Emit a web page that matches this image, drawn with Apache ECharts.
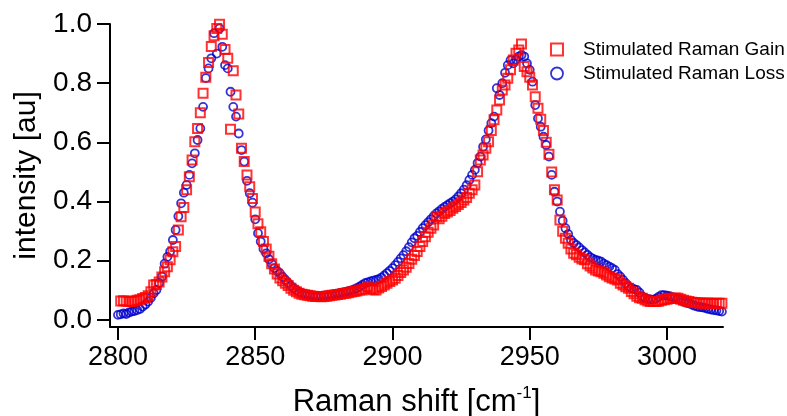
<!DOCTYPE html>
<html>
<head>
<meta charset="utf-8">
<title>Stimulated Raman Gain / Loss</title>
<script src="https://cdn.jsdelivr.net/npm/echarts@6/dist/echarts.min.js"></script>
<style>
  html, body { margin: 0; padding: 0; background: #fff; }
  #chart { width: 787px; height: 416px; }
</style>
</head>
<body>
<div id="chart"></div>
<script>
// Raman shift [cm-1], one point per wavenumber
const shift = [
  2800, 2801, 2802, 2803, 2804, 2805, 2806, 2807, 2808, 2809,
  2810, 2811, 2812, 2813, 2814, 2815, 2816, 2817, 2818, 2819,
  2820, 2821, 2822, 2823, 2824, 2825, 2826, 2827, 2828, 2829,
  2830, 2831, 2832, 2833, 2834, 2835, 2836, 2837, 2838, 2839,
  2840, 2841, 2842, 2843, 2844, 2845, 2846, 2847, 2848, 2849,
  2850, 2851, 2852, 2853, 2854, 2855, 2856, 2857, 2858, 2859,
  2860, 2861, 2862, 2863, 2864, 2865, 2866, 2867, 2868, 2869,
  2870, 2871, 2872, 2873, 2874, 2875, 2876, 2877, 2878, 2879,
  2880, 2881, 2882, 2883, 2884, 2885, 2886, 2887, 2888, 2889,
  2890, 2891, 2892, 2893, 2894, 2895, 2896, 2897, 2898, 2899,
  2900, 2901, 2902, 2903, 2904, 2905, 2906, 2907, 2908, 2909,
  2910, 2911, 2912, 2913, 2914, 2915, 2916, 2917, 2918, 2919,
  2920, 2921, 2922, 2923, 2924, 2925, 2926, 2927, 2928, 2929,
  2930, 2931, 2932, 2933, 2934, 2935, 2936, 2937, 2938, 2939,
  2940, 2941, 2942, 2943, 2944, 2945, 2946, 2947, 2948, 2949,
  2950, 2951, 2952, 2953, 2954, 2955, 2956, 2957, 2958, 2959,
  2960, 2961, 2962, 2963, 2964, 2965, 2966, 2967, 2968, 2969,
  2970, 2971, 2972, 2973, 2974, 2975, 2976, 2977, 2978, 2979,
  2980, 2981, 2982, 2983, 2984, 2985, 2986, 2987, 2988, 2989,
  2990, 2991, 2992, 2993, 2994, 2995, 2996, 2997, 2998, 2999,
  3000, 3001, 3002, 3003, 3004, 3005, 3006, 3007, 3008, 3009,
  3010, 3011, 3012, 3013, 3014, 3015, 3016, 3017, 3018, 3019,
  3020
]

// Stimulated Raman Gain (red squares), no point at 2800
const gain = [
  null, 0.064, 0.065, 0.063, 0.062, 0.062, 0.064, 0.066, 0.068, 0.072,
  0.076, 0.082, 0.095, 0.118, 0.120, 0.128, 0.145, 0.163, 0.180, 0.203,
  0.230, 0.248, 0.304, 0.349, 0.380, 0.440, 0.484, 0.540, 0.602, 0.647,
  0.700, 0.766, 0.820, 0.870, 0.924, 0.960, 0.985, 0.999, 0.965, 0.914,
  0.884, 0.644, 0.842, 0.760, 0.696, 0.580, 0.535, 0.490, 0.450, 0.410,
  0.365, 0.325, 0.298, 0.265, 0.240, 0.215, 0.190, 0.172, 0.155, 0.142,
  0.132, 0.124, 0.116, 0.107, 0.100, 0.095, 0.090, 0.087, 0.085, 0.083,
  0.082, 0.080, 0.079, 0.079, 0.078, 0.079, 0.080, 0.082, 0.083, 0.084,
  0.086, 0.087, 0.089, 0.090, 0.092, 0.094, 0.096, 0.098, 0.101, 0.101,
  0.105, 0.113, 0.106, 0.102, 0.101, 0.108, 0.113, 0.118, 0.124, 0.130,
  0.135, 0.141, 0.150, 0.160, 0.169, 0.178, 0.191, 0.205, 0.218, 0.231,
  0.248, 0.265, 0.281, 0.296, 0.310, 0.321, 0.349, 0.342, 0.350, 0.360,
  0.365, 0.370, 0.377, 0.383, 0.390, 0.397, 0.405, 0.414, 0.428, 0.440,
  0.456, 0.501, 0.540, 0.557, 0.580, 0.602, 0.640, 0.676, 0.709, 0.743,
  0.777, 0.794, 0.817, 0.845, 0.878, 0.901, 0.912, 0.932, 0.856, 0.839,
  0.820, 0.794, 0.754, 0.715, 0.678, 0.640, 0.600, 0.560, 0.500, 0.440,
  0.405, 0.338, 0.300, 0.276, 0.259, 0.240, 0.225, 0.220, 0.212, 0.206,
  0.203, 0.190, 0.182, 0.175, 0.169, 0.165, 0.163, 0.158, 0.152, 0.146,
  0.142, 0.138, 0.135, 0.124, 0.118, 0.112, 0.107, 0.096, 0.088, 0.080,
  0.075, 0.073, 0.068, 0.064, 0.062, 0.062, 0.062, 0.063, 0.066, 0.068,
  0.070, 0.073, 0.072, 0.074, 0.073, 0.070, 0.066, 0.064, 0.062, 0.060,
  0.059, 0.058, 0.057, 0.056, 0.056, 0.057, 0.056, 0.055, 0.056, 0.056,
  0.056
]

// Stimulated Raman Loss (blue circles)
const loss = [
  0.017, 0.019, 0.022, 0.020, 0.025, 0.028, 0.030, 0.033, 0.037, 0.045,
  0.052, 0.062, 0.075, 0.090, 0.101, 0.125, 0.146, 0.190, 0.213, 0.231,
  0.270, 0.304, 0.350, 0.394, 0.430, 0.456, 0.490, 0.529, 0.563, 0.608,
  0.647, 0.720, 0.817, 0.850, 0.884, 0.969, 0.900, 0.985, 0.923, 0.861,
  0.850, 0.771, 0.720, 0.687, 0.630, 0.574, 0.535, 0.470, 0.428, 0.396,
  0.340, 0.293, 0.265, 0.240, 0.225, 0.205, 0.190, 0.175, 0.165, 0.157,
  0.145, 0.135, 0.125, 0.115, 0.107, 0.100, 0.094, 0.090, 0.087, 0.085,
  0.083, 0.082, 0.081, 0.081, 0.081, 0.082, 0.083, 0.084, 0.085, 0.087,
  0.089, 0.091, 0.093, 0.095, 0.097, 0.100, 0.103, 0.107, 0.112, 0.118,
  0.124, 0.127, 0.130, 0.133, 0.135, 0.138, 0.143, 0.150, 0.158, 0.166,
  0.175, 0.185, 0.196, 0.208, 0.219, 0.232, 0.246, 0.262, 0.276, 0.284,
  0.297, 0.310, 0.320, 0.330, 0.340, 0.350, 0.360, 0.367, 0.375, 0.382,
  0.388, 0.394, 0.400, 0.407, 0.417, 0.428, 0.440, 0.455, 0.473, 0.490,
  0.507, 0.530, 0.552, 0.585, 0.610, 0.640, 0.665, 0.687, 0.783, 0.760,
  0.800, 0.835, 0.861, 0.878, 0.867, 0.880, 0.890, 0.895, 0.890, 0.867,
  0.845, 0.805, 0.726, 0.681, 0.653, 0.619, 0.591, 0.552, 0.490, 0.433,
  0.400, 0.366, 0.335, 0.310, 0.290, 0.270, 0.260, 0.253, 0.245, 0.236,
  0.228, 0.220, 0.212, 0.207, 0.203, 0.200, 0.197, 0.190, 0.185, 0.180,
  0.175, 0.169, 0.155, 0.146, 0.135, 0.124, 0.113, 0.108, 0.104, 0.101,
  0.092, 0.079, 0.074, 0.070, 0.069, 0.068, 0.072, 0.078, 0.084, 0.084,
  0.082, 0.080, 0.076, 0.075, 0.070, 0.066, 0.062, 0.058, 0.056, 0.052,
  0.048, 0.045, 0.043, 0.042, 0.040, 0.037, 0.035, 0.033, 0.032, 0.030,
  0.028
]

// tick labels
const xTicks = [2800, 2850, 2900, 2950, 3000]
const yTicks = [0.0, 0.2, 0.4, 0.6, 0.8, 1.0]

const gainName = "Stimulated Raman Gain"
const lossName = "Stimulated Raman Loss"

const FONT = "'Liberation Sans', Arial, sans-serif"
const RED = "#ff0000"
const BLUE = "#0000cc"

// pair x with y, skip missing points
const toPoints = (ys) => shift.map((x, i) => [x, ys[i]]).filter((p) => p[1] != null)

const chart = echarts.init(document.getElementById("chart"), null, { renderer: "canvas" })

const axisCommon = {
  axisLine: { show: true, onZero: false, lineStyle: { color: "#000", width: 2 } },
  splitLine: { show: false },
}

const option = {
  animation: false,
  backgroundColor: "#fff",
  textStyle: { fontFamily: FONT },
  // fixed plot box, don't let v6 shrink it to fit the axis names
  grid: { left: 110, right: 64, top: 24, bottom: 89, containLabel: false, outerBoundsMode: "none" },
  legend: {
    orient: "vertical",
    left: 545,
    top: 35,
    itemWidth: 12,
    itemHeight: 12,
    itemGap: 5,
    textStyle: { fontFamily: FONT, fontSize: 19, color: "#000", padding: [0, 0, 0, 15] },
    data: [
      { name: gainName, icon: "rect", itemStyle: { color: "rgba(0,0,0,0)", borderColor: RED, borderWidth: 2 } },
      { name: lossName, icon: "circle", itemStyle: { color: "rgba(0,0,0,0)", borderColor: BLUE, borderWidth: 1.8 } },
    ],
  },
  xAxis: {
    ...axisCommon,
    type: "value",
    min: 2797.1,
    max: 3020.4,
    axisTick: { show: true, inside: false, length: 13, customValues: xTicks, lineStyle: { color: "#000", width: 2 } },
    axisLabel: {
      customValues: xTicks,
      margin: 17,
      fontSize: 27,
      color: "#000",
      fontFamily: FONT,
      formatter: (v) => String(v),
    },
    name: "Raman shift [cm{sup|-1}]",
    nameLocation: "middle",
    nameGap: 58,
    nameTextStyle: {
      fontFamily: FONT,
      fontSize: 31,
      color: "#000",
      lineHeight: 34,
      rich: { sup: { fontFamily: FONT, fontSize: 17, color: "#000", verticalAlign: "top", lineHeight: 18 } },
    },
  },
  yAxis: {
    ...axisCommon,
    type: "value",
    min: -0.024,
    max: 1.0,
    axisTick: { show: true, inside: false, length: 13, customValues: yTicks, lineStyle: { color: "#000", width: 2 } },
    axisLabel: {
      customValues: yTicks,
      margin: 18,
      fontSize: 28,
      color: "#000",
      fontFamily: FONT,
      formatter: (v) => Number(v).toFixed(1),
    },
    name: "intensity [au]",
    nameLocation: "middle",
    nameGap: 68,
    nameTextStyle: { fontFamily: FONT, fontSize: 30, color: "#000" },
  },
  series: [
    {
      name: lossName,
      type: "scatter",
      data: toPoints(loss),
      symbol: "circle",
      symbolSize: 8,
      clip: false,
      z: 2,
      itemStyle: { color: "rgba(0,0,0,0)", borderColor: BLUE, borderWidth: 1.8 },
    },
    {
      name: gainName,
      type: "scatter",
      data: toPoints(gain),
      symbol: "rect",
      symbolSize: 9,
      clip: false,
      z: 3,
      itemStyle: { color: "rgba(0,0,0,0)", borderColor: RED, borderWidth: 2 },
    },
  ],
}

chart.setOption(option)
</script>
</body>
</html>
